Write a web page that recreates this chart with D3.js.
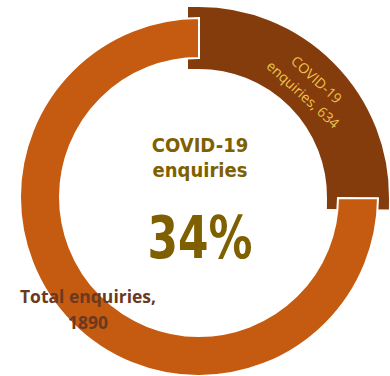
<!DOCTYPE html>
<html>
<head>
<meta charset="utf-8">
<script src="https://cdn.jsdelivr.net/npm/d3@7"></script>
<style>
  html, body { margin: 0; padding: 0; background: #fff; }
  svg { display: block; }
</style>
</head>
<body>
<svg id="chart" width="390" height="376"></svg>
<script>
// data
const categories = ['COVID-19 enquiries', 'Total enquiries'];
const values = [634, 1890];
const sliceColors = ['#843C0C', '#C55A11'];
const centerTitle = ['COVID-19', 'enquiries'];

const svg = d3.select('#chart');
const cx = 199, cy = 197;
const outerR = 179, innerR = 139;

const g = svg.append('g').attr('transform', `translate(${cx},${cy})`);

const pie = d3.pie().sort(null).value(d => d.value);
const arcs = pie(categories.map((c, i) => ({name: c, value: values[i], color: sliceColors[i]})));

const arc = d3.arc().innerRadius(innerR).outerRadius(outerR);

// highlighted slice: thick border in its own colour makes it stand out
g.append('path')
  .datum(arcs[0])
  .attr('d', arc)
  .attr('fill', sliceColors[0])
  .attr('stroke', sliceColors[0])
  .attr('stroke-width', 22)
  .attr('stroke-linejoin', 'miter');

g.append('path')
  .datum(arcs[1])
  .attr('d', arc)
  .attr('fill', sliceColors[1])
  .attr('stroke', '#fff')
  .attr('stroke-width', 2);

// label inside the highlighted slice
const first = arcs[0];
const mid0 = (first.startAngle + first.endAngle) / 2;
const cen = d3.arc().innerRadius(156).outerRadius(156).centroid(first);
const lab = g.append('g')
  .attr('transform', `translate(${cen[0]},${cen[1]}) rotate(${mid0 * 180 / Math.PI - 3})`);
lab.append('text')
  .attr('text-anchor', 'middle')
  .attr('font-family', '"Open Sans", sans-serif')
  .attr('font-size', 14)
  .attr('fill', '#EEC24C')
  .selectAll('tspan')
  .data(['COVID-19', 'enquiries, ' + values[0]])
  .enter().append('tspan')
  .attr('x', 0)
  .attr('y', (d, i) => i === 0 ? -5 : 15)
  .text(d => d);

// total label
svg.append('text')
  .attr('text-anchor', 'middle')
  .attr('font-family', '"Open Sans", sans-serif')
  .attr('font-weight', 'bold')
  .attr('font-size', 17.5)
  .attr('fill', '#6B3A1E')
  .selectAll('tspan')
  .data(['Total enquiries,', String(values[1])])
  .enter().append('tspan')
  .attr('x', 88)
  .attr('y', (d, i) => 303 + i * 26)
  .text(d => d);

// center texts
const center = svg.append('g').attr('transform', `translate(${cx + 1},0)`);
center.append('text')
  .attr('text-anchor', 'middle')
  .attr('font-family', '"DejaVu Sans Condensed", "DejaVu Sans", sans-serif')
  .attr('font-weight', 'bold')
  .attr('font-size', 20)
  .attr('fill', '#7F6000')
  .selectAll('tspan')
  .data(centerTitle)
  .enter().append('tspan')
  .attr('x', 0)
  .attr('y', (d, i) => 152 + i * 25)
  .text(d => d);

center.append('text')
  .attr('text-anchor', 'middle')
  .attr('transform', 'translate(0,258) scale(0.84,1)')
  .attr('font-family', '"DejaVu Sans Condensed", "DejaVu Sans", sans-serif')
  .attr('font-weight', 'bold')
  .attr('font-size', 58)
  .attr('fill', '#7F6000')
  .text(Math.round(values[0] / values[1] * 100) + '%');
</script>
</body>
</html>
